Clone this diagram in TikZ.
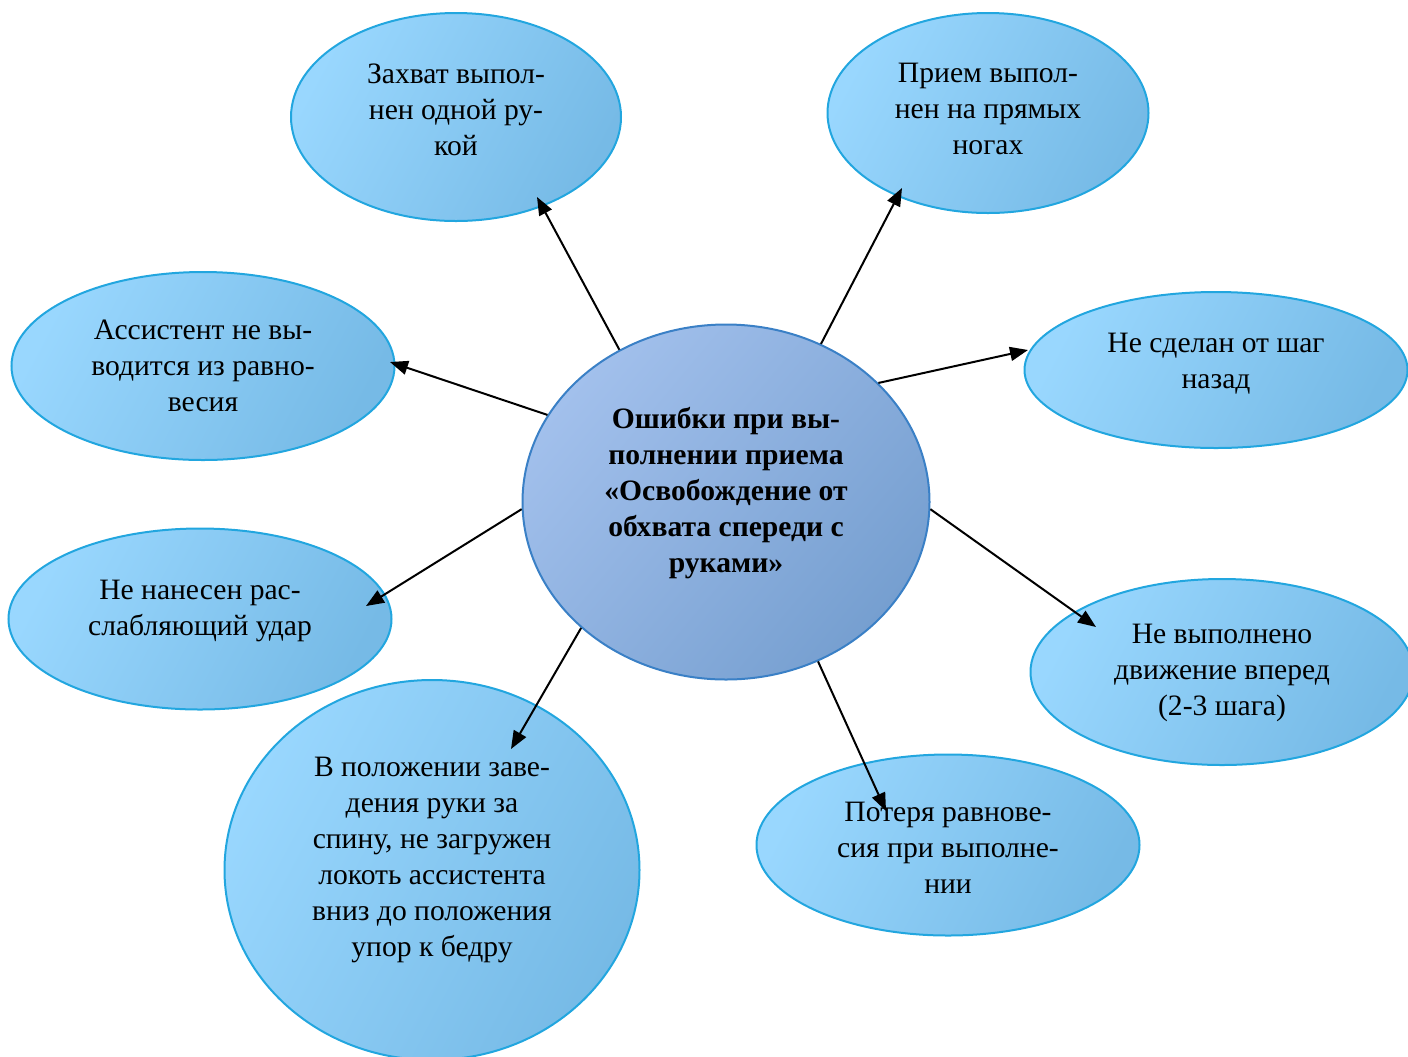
\documentclass[tikz,border=0pt]{standalone}
\usepackage{fontspec}
\setmainfont{Liberation Serif}
\usetikzlibrary{shapes.geometric,arrows.meta}
\definecolor{lbA}{HTML}{99D7FE}
\definecolor{lbB}{HTML}{76BAE6}
\definecolor{lbE}{HTML}{22A6DF}
\definecolor{cA}{HTML}{A2C0EC}
\definecolor{cB}{HTML}{769FD0}
\definecolor{cE}{HTML}{3A80C6}
\tikzset{
  bub/.style={ellipse, draw=lbE, line width=1pt, inner sep=0pt, top color=lbA, bottom color=lbB, shading angle=62},
  hub/.style={ellipse, draw=cE, line width=1pt, inner sep=0pt, top color=cA, bottom color=cB, shading angle=50},
  txt/.style={align=center, inner sep=0pt, font=\fontsize{14.8}{18}\selectfont},
  btxt/.style={align=center, inner sep=0pt, font=\fontsize{14.8}{18}\selectfont\bfseries},
  arr/.style={line width=1pt, -{Triangle[length=9pt,width=7pt]}}
}
\begin{document}
\begin{tikzpicture}[x=0.5pt,y=-0.5pt]
\useasboundingbox (0,0) rectangle (1408,1056);
\clip (0,0) rectangle (1408,1056);
% bubbles
\node[bub, minimum width=165pt, minimum height=104pt] (zah) at (456,117) {};
\node[bub, minimum width=160.5pt, minimum height=100pt] (pri) at (988,113) {};
\node[bub, minimum width=191.5pt, minimum height=94pt] (ass) at (203,366) {};
\node[bub, minimum width=191.5pt, minimum height=78pt] (sha) at (1216,370) {};
\node[bub, minimum width=191.5pt, minimum height=90.5pt] (uda) at (200,619) {};
\node[bub, minimum width=191.5pt, minimum height=93pt] (vpe) at (1222,672) {};
\node[bub, minimum width=191.5pt, minimum height=90.5pt] (pot) at (948,845) {};
\node[bub, minimum width=207.5pt, minimum height=190pt] (pol) at (432,870) {};
\node[hub, minimum width=203.5pt, minimum height=177.5pt] (c) at (726,502) {};
% texts
\node[txt] (tzah) at (456,110) {Захват выпол-\\нен одной ру-\\кой};
\node[txt] (tpri) at (988,109) {Прием выпол-\\нен на прямых\\ногах};
\node[txt] (tass) at (203,366) {Ассистент не вы-\\водится из равно-\\весия};
\node[txt] (tsha) at (1216,364) {Не сделан от шаг\\назад};
\node[txt] (tuda) at (200,611) {Не нанесен рас-\\слабляющий удар};
\node[txt] (tvpe) at (1222,673) {Не выполнено\\движение вперед\\(2-3 шага)};
\node[txt] (tpot) at (948,848) {Потеря равнове-\\сия при выполне-\\нии};
\node[txt] (tpol) at (432,860) {В положении заве-\\дения руки за\\спину, не загружен\\локоть ассистента\\вниз до положения\\упор к бедру};
\node[btxt] (tc) at (726,493) {Ошибки при вы-\\полнении приема\\«Освобождение от\\обхвата спереди с\\руками»};
% arrow ends
\coordinate (ezah) at (537,197);
\coordinate (epri) at (902,188);
\coordinate (eass) at (390,362);
\coordinate (esha) at (1028,350);
\coordinate (euda) at (366,606);
\coordinate (evpe) at (1096,627);
\coordinate (epol) at (511,749);
\coordinate (epot) at (886,811);
% arrows
\draw[arr] (c.125) -- (ezah);
\draw[arr] (c.59) -- (epri);
\draw[arr] (c.154) -- (eass);
\draw[arr] (c.38) -- (esha);
\draw[arr] (c.182) -- (euda);
\draw[arr] (c.-2) -- (evpe);
\draw[arr] (c.221) -- (epol);
\draw[arr] (c.-60) -- (epot);
\end{tikzpicture}
\end{document}
